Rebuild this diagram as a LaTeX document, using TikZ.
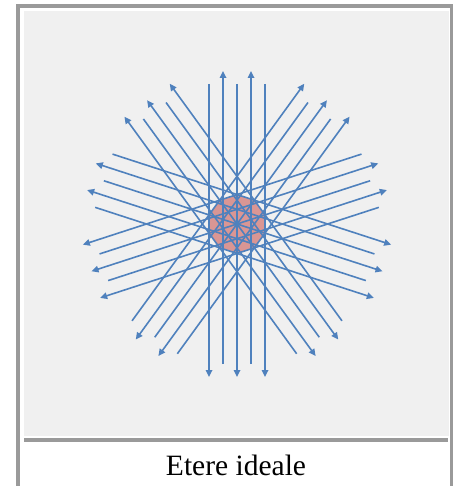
\documentclass[tikz,border=0pt]{standalone}
\usepackage{fontspec}
\setmainfont{Liberation Serif}
\usetikzlibrary{arrows.meta,calc}
\definecolor{framegray}{HTML}{9A9A9A}
\definecolor{panelgray}{HTML}{F0F0F0}
\definecolor{rayblue}{HTML}{4F81BD}
\definecolor{coresalmon}{HTML}{D99694}
\tikzset{
  ray/.style={draw=rayblue, line width=1.6pt, -{Triangle[length=7pt,width=6.5pt]}},
  core/.style={fill=coresalmon},
}
\begin{document}
\begin{tikzpicture}[x=1pt,y=1pt]
\useasboundingbox (0,0) rectangle (453,-486);
\fill[white] (0,0) rectangle (453,-486);
% frame
\fill[framegray] (16,-4) rectangle (20,-486);
\fill[framegray] (16,-4) rectangle (453,-8);
\fill[framegray] (450,-4) rectangle (453,-486);
\fill[panelgray] (24,-11) rectangle (449,-436);
\fill[framegray] (24,-438) rectangle (448,-442);
% centre
\coordinate (c) at (237,-224);
\fill[core] ($(c)+(18:29.44)$) \foreach \a in {54,90,...,342} {-- ($(c)+(\a:29.44)$)} -- cycle;
% rays
\foreach \k in {0,...,4} {
  \begin{scope}[shift={(c)}, rotate={-90+72*\k}]
    \foreach \s in {-28,0,28} \draw[ray] (-140,\s) -- (153,\s);
    \foreach \s in {-14,14} \draw[ray] (140,\s) -- (-153,\s);
  \end{scope}
}
\node[font=\fontsize{29.5}{34}\selectfont, anchor=base] (cap) at (236,-475) {Etere ideale};
\end{tikzpicture}
\end{document}
